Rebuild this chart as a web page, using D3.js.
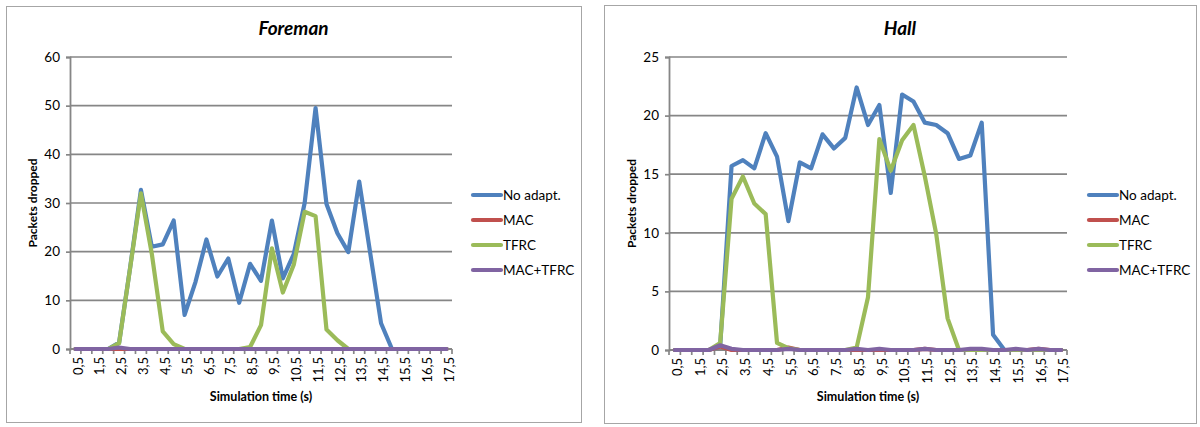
<!DOCTYPE html>
<html>
<head>
<meta charset="utf-8">
<script src="https://cdn.jsdelivr.net/npm/d3@7"></script>
<style>
  html, body { margin: 0; padding: 0; background: #fff; }
  svg { display: block; }
  text { font-family: Lato, "Open Sans", "DejaVu Sans", sans-serif; fill: #000; }
</style>
</head>
<body>
<svg id="chart" width="1200" height="427"></svg>
<script>
// ---- Data ----
const categories = ["0,5","1","1,5","2","2,5","3","3,5","4","4,5","5","5,5","6","6,5","7","7,5","8","8,5","9","9,5","10","10,5","11","11,5","12","12,5","13","13,5","14","14,5","15","15,5","16","16,5","17","17,5"];
const tickLabels = ["0,5","1,5","2,5","3,5","4,5","5,5","6,5","7,5","8,5","9,5","10,5","11,5","12,5","13,5","14,5","15,5","16,5","17,5"];
const seriesNames = ["No adapt.", "MAC", "TFRC", "MAC+TFRC"];

const foremanNoAdapt = [0,0,0,0,1.3,16.6,32.7,21,21.5,26.4,7,13.8,22.5,14.9,18.6,9.5,17.5,14,26.4,14.5,19.5,30,49.5,29.8,23.8,19.9,34.4,19.8,5.3,0,0,0,0,0,0];
const foremanMAC     = [0,0,0,0,0,0,0,0,0,0,0,0,0,0,0,0,0,0,0,0,0,0,0,0,0,0,0,0,0,0,0,0,0,0,0];
const foremanTFRC    = [0,0,0,0,1.2,16.5,32,19.5,3.6,1.0,0,0,0,0,0,0,0.4,4.9,20.7,11.6,17.3,28.2,27.3,4.0,1.8,0,0,0,0,0,0,0,0,0,0];
const foremanMACTFRC = [0,0,0,0,0.3,0,0,0,0,0,0,0,0,0,0,0,0,0,0,0,0,0,0,0,0,0,0,0,0,0,0,0,0,0,0];
const foremanYTicks  = [0,10,20,30,40,50,60];

const hallNoAdapt = [0,0,0,0,0.3,15.7,16.2,15.5,18.5,16.5,11.0,16.0,15.5,18.4,17.2,18.1,22.4,19.2,20.9,13.4,21.8,21.2,19.4,19.2,18.5,16.3,16.6,19.4,1.3,0,0,0,0,0,0];
const hallMAC     = [0,0,0,0,0.3,0,0,0,0,0,0.2,0,0,0,0,0,0,0,0,0,0,0,0.1,0,0,0,0,0,0,0,0,0,0.1,0,0];
const hallTFRC    = [0,0,0,0,0.6,12.9,14.8,12.5,11.6,0.6,0.15,0,0,0,0,0,0.2,4.5,18.0,15.3,17.9,19.2,14.8,9.9,2.7,0,0,0,0,0,0,0,0,0,0];
const hallMACTFRC = [0,0,0,0,0.4,0.1,0,0,0,0,0.1,0,0,0,0,0,0.1,0,0.1,0,0,0,0.1,0,0,0,0.1,0.1,0,0,0.1,0,0.1,0,0];
const hallYTicks  = [0,5,10,15,20,25];

const colors = ["#4F81BD", "#C0504D", "#9BBB59", "#8064A2"];

// ---- Drawing ----
const svg = d3.select("#chart");

function drawChart(cfg) {
  const g = svg.append("g");
  // outer box
  g.append("rect")
    .attr("x", cfg.box.x + 0.5).attr("y", cfg.box.y + 0.5)
    .attr("width", cfg.box.w).attr("height", cfg.box.h)
    .attr("fill", "#fff").attr("stroke", "#a6a6a6").attr("stroke-width", 1);

  // title
  g.append("text")
    .attr("x", cfg.box.x + cfg.box.w / 2).attr("y", cfg.titleY)
    .attr("text-anchor", "middle")
    .style("font-size", "19px").style("font-weight", "bold").style("font-style", "italic")
    .text(cfg.title);

  const p = cfg.plot;
  const x = d3.scaleBand().domain(categories).range([p.left, p.right]).padding(0);
  const y = d3.scaleLinear().domain([0, d3.max(cfg.yTicks)]).range([p.bottom, p.top]);

  // gridlines
  g.append("g").selectAll("line").data(cfg.yTicks.filter(d => d > 0)).join("line")
    .attr("x1", p.left).attr("x2", p.right)
    .attr("y1", d => y(d)).attr("y2", d => y(d))
    .attr("stroke", "#868686").attr("stroke-width", 1.7);

  // y axis
  const yAxis = d3.axisLeft(y).tickValues(cfg.yTicks).tickSize(4).tickPadding(6).tickFormat(d3.format("d"));
  const ya = g.append("g").attr("transform", `translate(${p.left},0)`).call(yAxis);
  ya.select(".domain").attr("stroke", "#868686").attr("stroke-width", 1.8);
  ya.selectAll(".tick line").attr("stroke", "#868686").attr("stroke-width", 1.7);
  ya.selectAll(".tick text").style("font-size", "13.5px").style("font-family", "Lato, 'Open Sans', sans-serif").attr("fill", "#000");

  // x axis
  const boundaries = categories.map(c => x(c)).concat([p.right]);
  g.append("line").attr("x1", p.left).attr("x2", p.right)
    .attr("y1", p.bottom).attr("y2", p.bottom)
    .attr("stroke", "#868686").attr("stroke-width", 1.8);
  g.append("g").selectAll("line").data(boundaries).join("line")
    .attr("x1", d => d).attr("x2", d => d)
    .attr("y1", p.bottom).attr("y2", p.bottom + 5)
    .attr("stroke", "#868686").attr("stroke-width", 1.7);
  g.append("g").selectAll("text").data(tickLabels).join("text")
    .attr("transform", d => `translate(${x(d) + x.bandwidth() / 2},${p.bottom + 8}) rotate(-90)`)
    .attr("text-anchor", "end")
    .attr("dy", "0.55em")
    .style("font-size", "13px")
    .text(d => d);

  // axis titles
  g.append("text")
    .attr("transform", `translate(${cfg.yTitleX},${(p.top + p.bottom) / 2}) rotate(-90)`)
    .attr("text-anchor", "middle").attr("dy", "0.35em")
    .style("font-size", "12px").style("font-weight", "bold")
    .text("Packets dropped");
  g.append("text")
    .attr("x", (p.left + p.right) / 2).attr("y", cfg.xTitleY)
    .attr("text-anchor", "middle")
    .style("font-size", "12.5px").style("font-weight", "bold")
    .text("Simulation time (s)");

  // series
  const line = d3.line()
    .x((d, i) => x(categories[i]) + x.bandwidth() / 2)
    .y(d => y(d));
  cfg.series.forEach((s, k) => {
    g.append("path").datum(s)
      .attr("d", line)
      .attr("fill", "none")
      .attr("stroke", colors[k])
      .attr("stroke-width", 4.2)
      .attr("stroke-linejoin", "round")
      .attr("stroke-linecap", "round");
  });

  // legend
  const lg = g.append("g").attr("transform", `translate(${cfg.legend.x},${cfg.legend.y})`);
  seriesNames.forEach((n, k) => {
    const row = lg.append("g").attr("transform", `translate(0,${k * 25})`);
    row.append("line").attr("x1", 0).attr("x2", 28).attr("y1", 0).attr("y2", 0)
      .attr("stroke", colors[k]).attr("stroke-width", 4.2).attr("stroke-linecap", "round");
    row.append("text").attr("x", 30).attr("y", 0).attr("dy", "0.35em")
      .style("font-size", "13.5px").text(n);
  });
}

drawChart({
  title: "Foreman",
  box: { x: 6, y: 6, w: 575, h: 416 },
  titleY: 35,
  plot: { left: 70, right: 452, top: 57, bottom: 349 },
  yTicks: foremanYTicks,
  yTitleX: 33,
  xTitleY: 401,
  legend: { x: 473, y: 195 },
  series: [foremanNoAdapt, foremanMAC, foremanTFRC, foremanMACTFRC]
});

drawChart({
  title: "Hall",
  box: { x: 604, y: 5, w: 592, h: 418 },
  titleY: 35,
  plot: { left: 669, right: 1067, top: 57, bottom: 350 },
  yTicks: hallYTicks,
  yTitleX: 632,
  xTitleY: 401,
  legend: { x: 1089, y: 195 },
  series: [hallNoAdapt, hallMAC, hallTFRC, hallMACTFRC]
});
</script>
</body>
</html>
